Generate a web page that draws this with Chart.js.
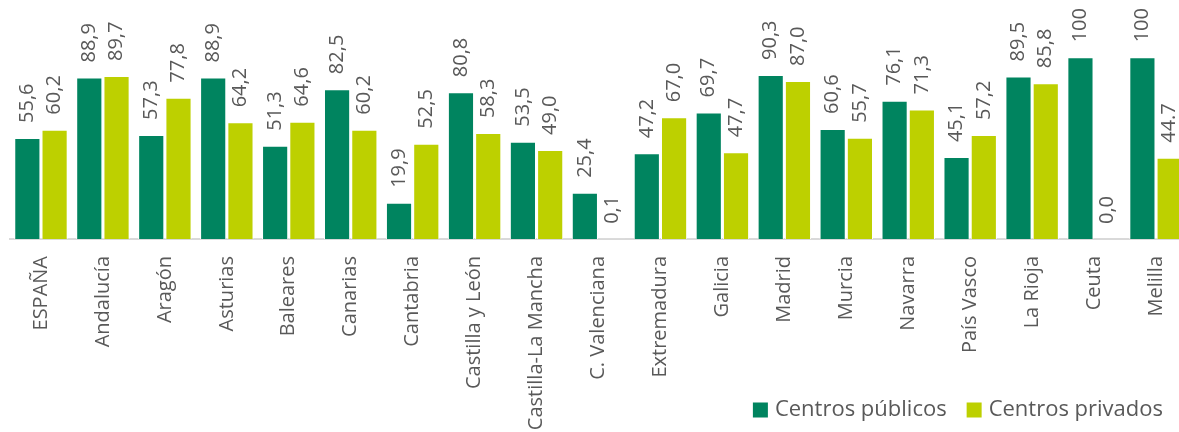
<!DOCTYPE html>
<html>
<head>
<meta charset="utf-8">
<script src="https://cdn.jsdelivr.net/npm/chart.js@4.4.1/dist/chart.umd.min.js"></script>
<style>
  html, body { margin: 0; padding: 0; background: #fff; overflow: hidden; }
  #wrap { width: 1190px; height: 432px; position: relative; }
</style>
</head>
<body>
<div id="wrap"><canvas id="chart"></canvas></div>
<script>
// Regions (categories)
const regions = [
  'ESPAÑA', 'Andalucía', 'Aragón', 'Asturias', 'Baleares', 'Canarias',
  'Cantabria', 'Castilla y León', 'Castilla-La Mancha', 'C. Valenciana',
  'Extremadura', 'Galicia', 'Madrid', 'Murcia', 'Navarra', 'País Vasco',
  'La Rioja', 'Ceuta', 'Melilla',
];

// Series values
const publicos = [55.6, 88.9, 57.3, 88.9, 51.3, 82.5, 19.9, 80.8, 53.5, 25.4,
  47.2, 69.7, 90.3, 60.6, 76.1, 45.1, 89.5, 100, 100];
const privados = [60.2, 89.7, 77.8, 64.2, 64.6, 60.2, 52.5, 58.3, 49.0, 0.1,
  67.0, 47.7, 87.0, 55.7, 71.3, 57.2, 85.8, 0.0, 44.7];

// Value labels as printed on the chart
const publicosLabels = ['55,6', '88,9', '57,3', '88,9', '51,3', '82,5', '19,9',
  '80,8', '53,5', '25,4', '47,2', '69,7', '90,3', '60,6', '76,1', '45,1', '89,5',
  '100', '100'];
const privadosLabels = ['60,2', '89,7', '77,8', '64,2', '64,6', '60,2', '52,5',
  '58,3', '49,0', '0,1', '67,0', '47,7', '87,0', '55,7', '71,3', '57,2', '85,8',
  '0,0', '44.7'];

const FONT = "'Open Sans', sans-serif";
const TEXT = '#595959';
const PLOT_BOTTOM = 239; // baseline of the bars
const LEGEND_RIGHT = 1163;
const LEGEND_Y = 410;

// Draws rotated value labels above every bar
const valueLabels = {
  id: 'valueLabels',
  afterDatasetsDraw(chart) {
    const { ctx } = chart;
    chart.data.datasets.forEach((ds, d) => {
      const meta = chart.getDatasetMeta(d);
      meta.data.forEach((bar, i) => {
        ctx.save();
        ctx.translate(bar.x, bar.y - 15);
        ctx.rotate(-Math.PI / 2);
        ctx.font = `20px ${FONT}`;
        ctx.fillStyle = TEXT;
        ctx.textAlign = 'left';
        ctx.textBaseline = 'middle';
        ctx.fillText(ds.valueLabels[i], 0, 0);
        ctx.restore();
      });
    });
  },
};

// Legend in the bottom right corner, drawn over the x labels area
const cornerLegend = {
  id: 'cornerLegend',
  afterDraw(chart) {
    const { ctx } = chart;
    ctx.save();
    ctx.font = `22px ${FONT}`;
    ctx.textBaseline = 'middle';
    ctx.textAlign = 'left';
    const items = chart.data.datasets.map((ds) => ({
      text: ds.label,
      color: ds.backgroundColor,
      width: 15 + 7 + ctx.measureText(ds.label).width,
    }));
    const total = items.reduce((s, it) => s + it.width, 0) + 20 * (items.length - 1);
    let x = LEGEND_RIGHT - total;
    items.forEach((it) => {
      ctx.fillStyle = it.color;
      ctx.fillRect(x, LEGEND_Y - 7.5, 15, 15);
      ctx.fillStyle = TEXT;
      ctx.fillText(it.text, x + 22, LEGEND_Y);
      x += it.width + 20;
    });
    ctx.restore();
  },
};

new Chart(document.getElementById('chart'), {
  type: 'bar',
  data: {
    labels: regions,
    datasets: [
      {
        label: 'Centros públicos',
        data: publicos,
        valueLabels: publicosLabels,
        backgroundColor: '#00845f',
        borderColor: '#ffffff',
        borderWidth: 1,
        categoryPercentage: 0.88,
        barPercentage: 0.96,
      },
      {
        label: 'Centros privados',
        data: privados,
        valueLabels: privadosLabels,
        backgroundColor: '#bdd000',
        borderColor: '#ffffff',
        borderWidth: 1,
        categoryPercentage: 0.88,
        barPercentage: 0.96,
      },
    ],
  },
  options: {
    responsive: true,
    maintainAspectRatio: false,
    animation: false,
    layout: { padding: { left: 10, right: 3, top: 21, bottom: 0 } },
    plugins: {
      tooltip: { enabled: false },
      legend: { display: false },
    },
    scales: {
      x: {
        grid: { display: false },
        border: { display: true, color: '#d9d9d9', width: 2 },
        ticks: {
          color: TEXT,
          font: { family: FONT, size: 20 },
          minRotation: 90,
          maxRotation: 90,
          autoSkip: false,
          padding: 9,
        },
        afterFit(scale) {
          scale.height = scale.chart.height - PLOT_BOTTOM;
        },
      },
      y: {
        display: false,
        min: 0,
        max: 120,
      },
    },
  },
  plugins: [valueLabels, cornerLegend],
});
</script>
</body>
</html>
